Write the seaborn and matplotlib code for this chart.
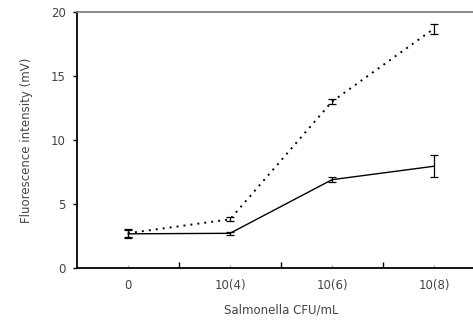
import numpy as np
import pandas as pd
import matplotlib
matplotlib.use("Agg")
import matplotlib.pyplot as plt
import seaborn as sns

categories = ["0", "10(4)", "10(6)", "10(8)"]
solid_mean = [2.67, 2.71, 6.9, 7.95]
solid_err = [0.3, 0.12, 0.18, 0.85]
dotted_mean = [2.72, 3.8, 13.0, 18.7]
dotted_err = [0.3, 0.15, 0.22, 0.4]

sns.set_style("white")
plt.rcParams['font.family'] = ['DejaVu Sans']

fig = plt.figure(figsize=(4.73, 3.22), dpi=100)
ax = fig.add_axes([77/473, 54/322, (485-77)/473, (268-12)/322])

df = pd.DataFrame({
    "cat": categories * 2,
    "val": solid_mean + dotted_mean,
    "series": ["solid"] * 4 + ["dotted"] * 4,
})
sns.lineplot(data=df[df.series == "solid"], x="cat", y="val", ax=ax, color="black",
             linewidth=1.0, sort=False, legend=False)
sns.lineplot(data=df[df.series == "dotted"], x="cat", y="val", ax=ax, color="black",
             linewidth=1.4, linestyle=(0, (1, 2.6)), sort=False, legend=False)

ax.errorbar(categories, solid_mean, yerr=solid_err, fmt="none", ecolor="black",
            elinewidth=0.9, capsize=3, capthick=0.9)
ax.errorbar(categories, dotted_mean, yerr=dotted_err, fmt="none", ecolor="black",
            elinewidth=0.9, capsize=3, capthick=0.9)

ax.set_xlim(-0.5, 3.5)
ax.set_ylim(0, 20)
ax.set_yticks([0, 5, 10, 15, 20])
ax.set_xticks(range(4))
ax.set_xticklabels(categories)
ax.set_xticks([0.5, 1.5, 2.5], minor=True)

txt = "#444444"
ax.tick_params(axis="y", which="major", direction="out", length=3, width=1,
               color="black", pad=5, labelsize=8.5, labelcolor=txt, left=True)
ax.tick_params(axis="x", which="major", direction="in", length=2, width=1,
               color="#aaaaaa", pad=8, labelsize=8.5, labelcolor=txt, bottom=True)
ax.tick_params(axis="x", which="minor", direction="in", length=4, width=1,
               color="black", bottom=True)

ax.set_xlabel("Salmonella CFU/mL", fontsize=8.5, color=txt, labelpad=8)
ax.set_ylabel("Fluorescence intensity (mV)", fontsize=8.5, color=txt, labelpad=13)

for s in ["left", "bottom"]:
    ax.spines[s].set_color("black")
    ax.spines[s].set_linewidth(1.3)
ax.spines["top"].set_color("#808080")
ax.spines["top"].set_linewidth(1.3)
ax.spines["right"].set_visible(False)

fig.savefig("out.png", dpi=100)
